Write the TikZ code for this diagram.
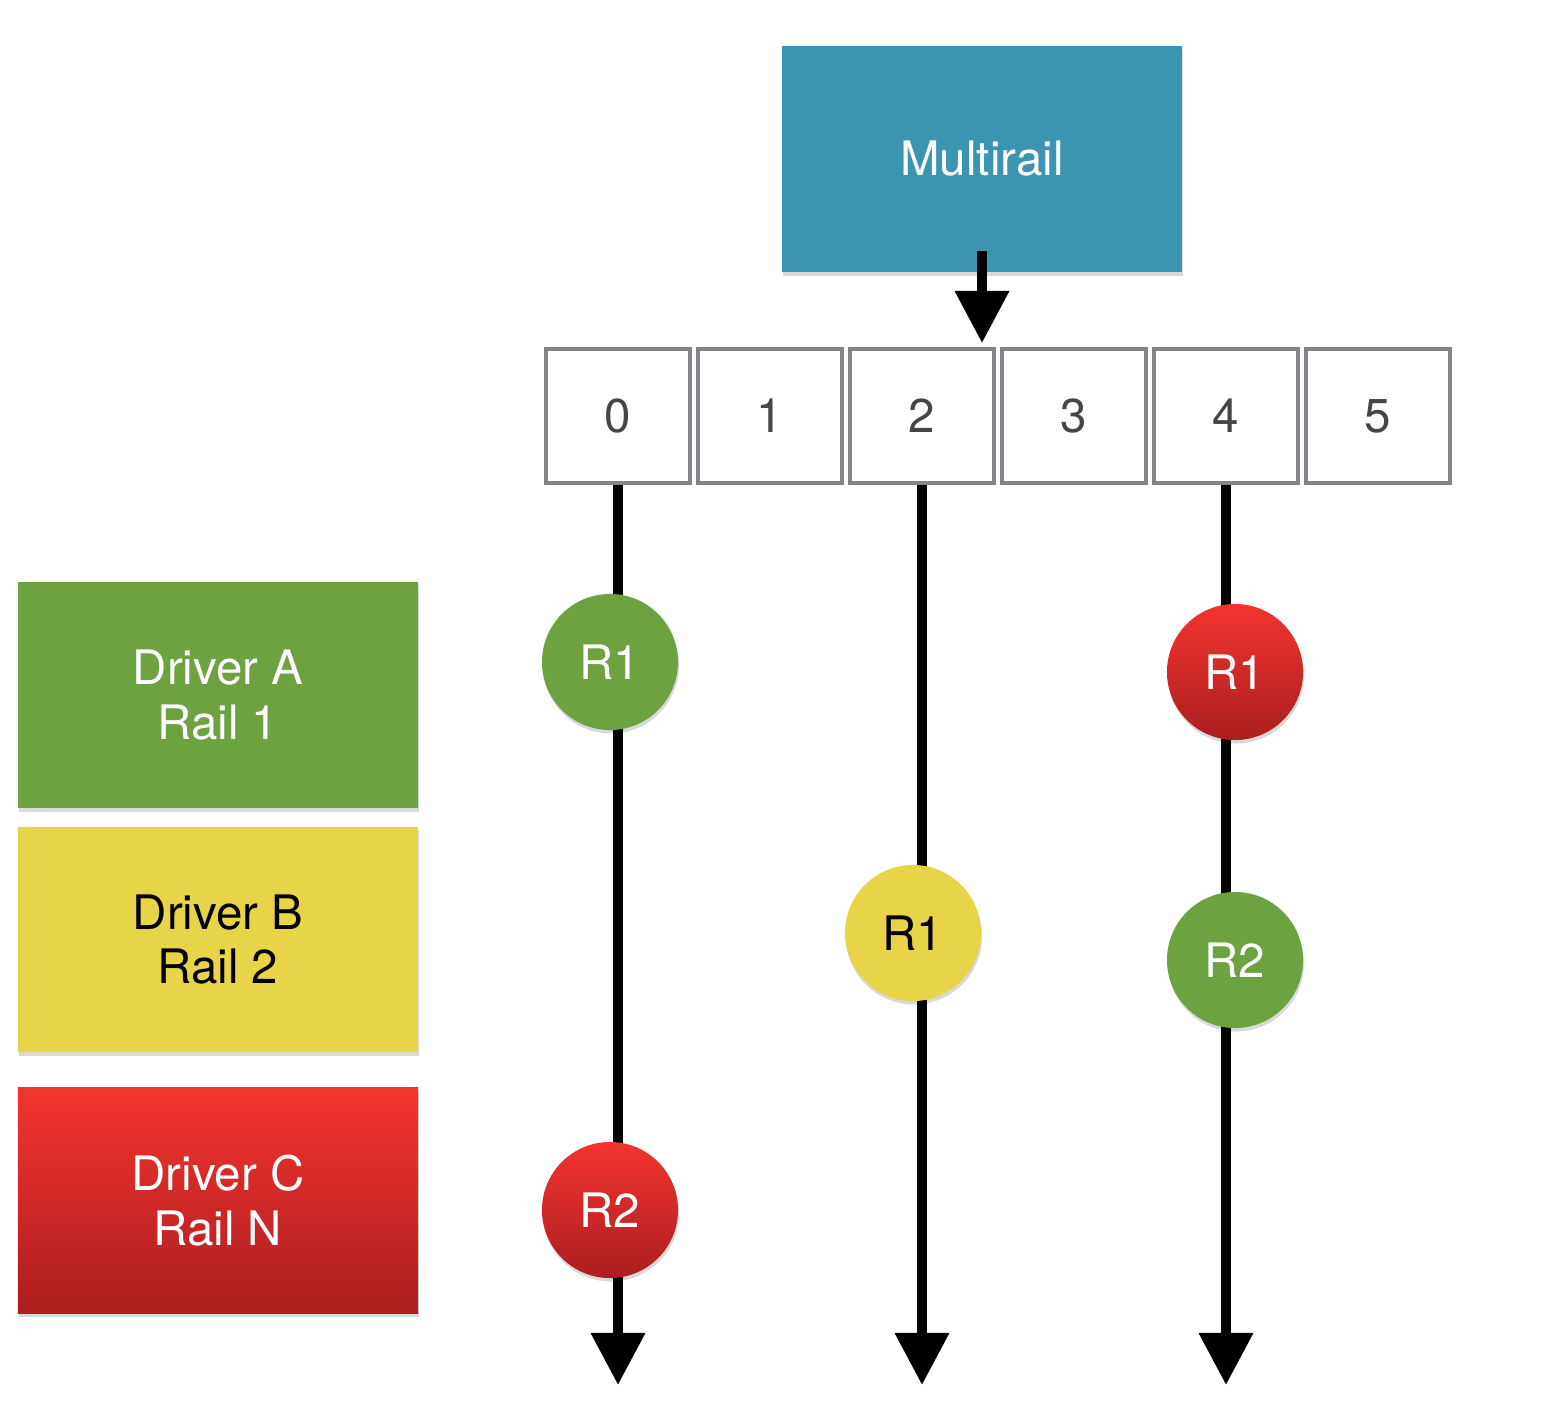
\documentclass[tikz,border=0pt]{standalone}
\usepackage{fontspec}
\setmainfont{TeX Gyre Heros}
\usetikzlibrary{arrows.meta,shadows}
\definecolor{mrteal}{RGB}{58,148,178}
\definecolor{mrgreen}{RGB}{108,163,64}
\definecolor{mryellow}{RGB}{232,212,72}
\definecolor{mrredtop}{RGB}{242,52,45}
\definecolor{mrredbot}{RGB}{172,30,32}
\definecolor{mrgray}{RGB}{130,132,137}
\definecolor{mrdigit}{RGB}{70,70,72}
\begin{document}
\begin{tikzpicture}[x=0.01cm,y=-0.01cm,
  txt/.style={font=\fontsize{13.5}{15.6}\selectfont, align=center},
  shd/.style={drop shadow={shadow xshift=0.01cm, shadow yshift=-0.035cm, opacity=0.15, fill=black}},
  box/.style={txt, shd, minimum width=4cm, minimum height=2.26cm, inner sep=0pt, draw=none},
  cell/.style={draw=mrgray, line width=0.04cm, fill=white, minimum width=1.44cm, minimum height=1.34cm, inner sep=0pt,
    text=mrdigit, font=\fontsize{13.5}{15}\selectfont},
  circ/.style={txt, shd, circle, minimum size=1.36cm, inner sep=0pt, draw=none},
  greenf/.style={fill=mrgreen, text=white},
  yellowf/.style={fill=mryellow, text=black},
  redf/.style={top color=mrredtop, bottom color=mrredbot, text=white},
  arr/.style={line width=0.1cm, -{Triangle[width=0.52cm,length=0.52cm]}}
]
\useasboundingbox (0,0) rectangle (1545,1409);

% Multirail box
\node[box, fill=mrteal, text=white] (mr) at (982,159) {\raisebox{-0.03cm}{Multirail}};

% cells
\foreach \i in {0,...,5} {
  \node[cell] (c\i) at ({618+152*\i},416) {\i};
}

% arrow from Multirail to cells
\coordinate (mrtip) at (982,343);
\draw[arr] ([yshift=0.22cm]mr.south) -- (mrtip);

% rail arrows
\coordinate (e0) at (618,1385);
\coordinate (e2) at (922,1385);
\coordinate (e4) at (1226,1385);
\draw[arr] (c0.south) -- (e0);
\draw[arr] (c2.south) -- (e2);
\draw[arr] (c4.south) -- (e4);

% driver boxes
\node[box, greenf] (da) at (218,695) {Driver A\\Rail 1};
\node[box, yellowf, minimum height=2.25cm] (db) at (218,939.5) {Driver B\\Rail 2};
\node[box, redf, minimum height=2.25cm] (dc) at (218,1200.5) {Driver C\\Rail N};

% circles
\node[circ, greenf] (g1) at (610,662) {R1};
\node[circ, redf] (r2) at (610,1210) {R2};
\node[circ, yellowf] (y1) at (913,933) {R1};
\node[circ, redf] (r1) at (1235,672) {R1};
\node[circ, greenf] (g2) at (1235,960) {R2};
\end{tikzpicture}
\end{document}
